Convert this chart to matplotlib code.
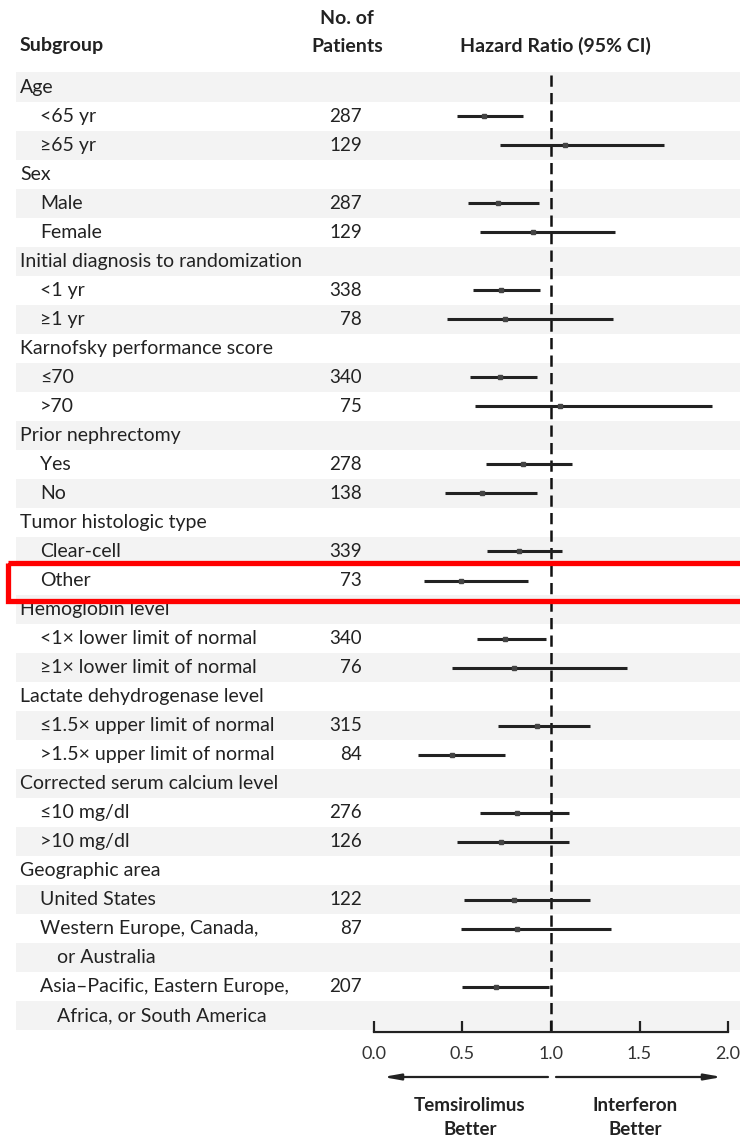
import matplotlib.pyplot as plt
import numpy as np
from matplotlib.patches import Rectangle

plt.rcParams['font.family'] = ['Lato', 'DejaVu Sans']

row_labels = ["Age", "<65 yr", "≥65 yr",
              "Sex", "Male", "Female",
              "Initial diagnosis to randomization", "<1 yr", "≥1 yr",
              "Karnofsky performance score", "≤70", ">70",
              "Prior nephrectomy", "Yes", "No",
              "Tumor histologic type", "Clear-cell", "Other",
              "Hemoglobin level", "<1× lower limit of normal", "≥1× lower limit of normal",
              "Lactate dehydrogenase level", "≤1.5× upper limit of normal", ">1.5× upper limit of normal",
              "Corrected serum calcium level", "≤10 mg/dl", ">10 mg/dl",
              "Geographic area", "United States", "Western Europe, Canada,", "or Australia",
              "Asia–Pacific, Eastern Europe,", "Africa, or South America"]
# 0 = group heading, 1 = subgroup, 2 = wrapped continuation line
row_level = [0, 1, 1, 0, 1, 1, 0, 1, 1, 0, 1, 1, 0, 1, 1, 0, 1, 1,
             0, 1, 1, 0, 1, 1, 0, 1, 1, 0, 1, 1, 2, 1, 2]

na = np.nan
patients = [None, 287, 129, None, 287, 129, None, 338, 78, None, 340, 75,
            None, 278, 138, None, 339, 73, None, 340, 76, None, 315, 84,
            None, 276, 126, None, 122, 87, None, 207, None]
hazard_ratio = [na, 0.62, 1.08, na, 0.70, 0.90, na, 0.72, 0.74, na, 0.71, 1.05,
                na, 0.84, 0.61, na, 0.82, 0.49, na, 0.74, 0.79, na, 0.92, 0.44,
                na, 0.81, 0.72, na, 0.79, 0.81, na, 0.69, na]
ci_low = [na, 0.47, 0.71, na, 0.53, 0.60, na, 0.56, 0.41, na, 0.54, 0.57,
          na, 0.63, 0.40, na, 0.64, 0.28, na, 0.58, 0.44, na, 0.70, 0.25,
          na, 0.60, 0.47, na, 0.51, 0.49, na, 0.50, na]
ci_high = [na, 0.84, 1.64, na, 0.93, 1.36, na, 0.94, 1.35, na, 0.92, 1.91,
           na, 1.12, 0.92, na, 1.06, 0.87, na, 0.97, 1.43, na, 1.22, 0.74,
           na, 1.10, 1.10, na, 1.22, 1.34, na, 0.99, na]

x_ticks = [0.0, 0.5, 1.0, 1.5, 2.0]
highlight_row = "Other"

TEXT = '#222222'
ROW_H = 29.03


def px_x(px):
    # pixel column of the 740 px wide figure -> hazard ratio units
    return (px - 374) / 177


def px_y(py):
    # pixel row of the figure -> row index units
    return (py - 87) / ROW_H


def create_forest_plot():
    fig = plt.figure(figsize=(7.4, 11.39), dpi=100)
    ax = fig.add_axes([0, 0, 1, 1])
    ax.set_xlim(px_x(0), px_x(740))
    ax.set_ylim(px_y(1139), px_y(0))

    n = len(row_labels)
    rows = np.arange(n)

    # alternating shaded bands
    for i in rows[::2]:
        ax.axhspan(i - 0.5, i + 0.5, xmin=16 / 740, xmax=1, color='#f3f3f3', lw=0, zorder=0)

    # labels and patient counts
    indent = {0: 20, 1: 40, 2: 57}
    for i, (label, lvl, npat) in enumerate(zip(row_labels, row_level, patients)):
        ax.text(px_x(indent[lvl]), i, label, ha='left', va='center', fontsize=14, color=TEXT)
        if npat is not None:
            ax.text(px_x(362), i, str(npat), ha='right', va='center', fontsize=13.5, color=TEXT)

    # headers
    hdr = dict(va='center', fontsize=14, fontweight='bold', color=TEXT)
    ax.text(px_x(20), px_y(46), "Subgroup", ha='left', **hdr)
    ax.text(px_x(347), px_y(19), "No. of", ha='center', **hdr)
    ax.text(px_x(347), px_y(46), "Patients", ha='center', **hdr)
    ax.text(px_x(555), px_y(46), "Hazard Ratio (95% CI)", ha='center', **hdr)

    # reference line at HR = 1
    bottom = px_y(1032)
    ax.plot([1.0, 1.0], [px_y(75), bottom], color='#111111', lw=1.8, dashes=(4.5, 2.5), zorder=2)

    # confidence intervals and point estimates
    hr = np.array(hazard_ratio)
    lo = np.array(ci_low)
    hi = np.array(ci_high)
    ax.hlines(rows, lo, hi, color='#222222', lw=2.2, zorder=3)
    ax.plot(hr, rows, 's', ms=3, color='#444444', zorder=4)

    # x axis
    for s in ['top', 'left', 'right']:
        ax.spines[s].set_visible(False)
    ax.spines['bottom'].set_position(('data', bottom))
    ax.spines['bottom'].set_bounds(x_ticks[0], x_ticks[-1])
    ax.spines['bottom'].set_linewidth(1.6)
    ax.spines['bottom'].set_color('#222222')
    ax.set_xticks(x_ticks)
    ax.set_xticklabels([f"{t:.1f}" for t in x_ticks])
    ax.tick_params(axis='x', direction='in', length=8, width=1.6, color='#222222',
                   labelsize=13, labelcolor='#333333', pad=10)
    ax.set_yticks([])

    # direction arrows
    arrow_y = px_y(1077)
    arrow = dict(arrowstyle='-|>,head_length=1.0,head_width=0.18', color='#222222', lw=1.6,
                 shrinkA=0, shrinkB=0)
    ax.annotate('', xy=(px_x(383), arrow_y), xytext=(px_x(548), arrow_y), arrowprops=arrow)
    ax.annotate('', xy=(px_x(722), arrow_y), xytext=(px_x(556), arrow_y), arrowprops=arrow)
    lbl = dict(ha='center', va='center', fontsize=13.5, fontweight='bold', color=TEXT)
    ax.text(px_x(470), px_y(1105), "Temsirolimus", **lbl)
    ax.text(px_x(470), px_y(1129), "Better", **lbl)
    ax.text(px_x(635), px_y(1105), "Interferon", **lbl)
    ax.text(px_x(635), px_y(1129), "Better", **lbl)

    # highlight box around the chosen row
    k = row_labels.index(highlight_row)
    top = k - (580.5 - 563) / ROW_H
    height = (601 - 563) / ROW_H
    ax.add_patch(Rectangle((px_x(8), top), px_x(760) - px_x(8), height, fill=False,
                           edgecolor='#ff0000', lw=3.8, zorder=6, clip_on=False))

    plt.savefig('out.png', dpi=100)


def main():
    create_forest_plot()


if __name__ == '__main__':
    main()
